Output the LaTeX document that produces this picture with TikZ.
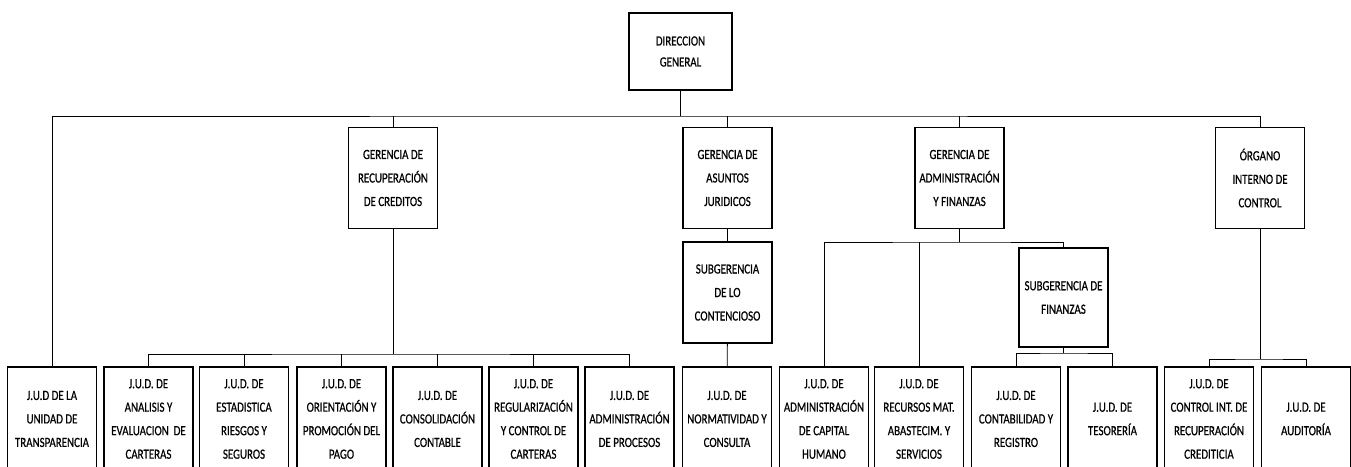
\documentclass[tikz,border=0pt]{standalone}
\usepackage{fontspec}
\setmainfont{Carlito}[FakeStretch=0.78, FakeBold=0.6]
\usepackage{tikz}

\begin{document}
\begin{tikzpicture}[x=1pt, y=-1pt, line width=0.9pt,
  unit/.style={draw, line width=1.2pt, inner sep=0pt, align=center,
    minimum width=89pt, font=\fontsize{14}{23.5}\selectfont},
  gerencia/.style={unit, minimum height=101pt},
  jud/.style={unit, minimum height=104pt}]

  \useasboundingbox (0, 0) rectangle (1351, 466);

  % levels of the buses
  \coordinate (bus) at (0, 116);
  \coordinate (busaf) at (0, 242);
  \coordinate (busf) at (0, 353);
  \coordinate (busrc) at (0, 354);
  \coordinate (buso) at (0, 359);

  \node[unit, minimum width=103pt, minimum height=77pt,
    font=\fontsize{14}{21}\selectfont] (dg) at (680.5, 51.5) {DIRECCION\\GENERAL};

  \node[gerencia] (grc) at (393, 178) {GERENCIA DE\\RECUPERACIÓN\\DE CREDITOS};
  \node[gerencia] (gaj) at (727.5, 178) {GERENCIA DE\\ASUNTOS\\JURIDICOS};
  \node[gerencia] (gaf) at (959.5, 178) {GERENCIA DE\\ADMINISTRACIÓN\\Y FINANZAS};
  \node[gerencia] (oic) at (1260, 178) {ÓRGANO\\INTERNO DE\\CONTROL};

  \node[gerencia] (sgc) at (727.5, 292.5) {SUBGERENCIA\\DE LO\\CONTENCIOSO};
  \node[unit, minimum height=99pt] (sgf) at (1063.5, 297.5) {SUBGERENCIA DE\\FINANZAS};

  \node[jud] (jtra) at (52, 419) {J.U.D DE LA\\UNIDAD DE\\TRANSPARENCIA};
  \node[jud] (jaec) at (148.5, 419) {J.U.D. DE\\ANALISIS Y\\EVALUACION \ DE\\CARTERAS};
  \node[jud] (jest) at (244, 419) {J.U.D. DE\\ESTADISTICA\\RIESGOS Y\\SEGUROS};
  \node[jud] (jori) at (341.5, 419) {J.U.D. DE\\ORIENTACIÓN Y\\PROMOCIÓN DEL\\PAGO};
  \node[jud] (jcon) at (437.5, 419) {J.U.D. DE\\CONSOLIDACIÓN\\CONTABLE};
  \node[jud] (jreg) at (533.5, 419) {J.U.D. DE\\REGULARIZACIÓN\\Y CONTROL DE\\CARTERAS};
  \node[jud] (jproc) at (629.5, 419) {J.U.D. DE\\ADMINISTRACIÓN\\DE PROCESOS};
  \node[jud] (jnor) at (727, 419) {J.U.D. DE\\NORMATIVIDAD Y\\CONSULTA};
  \node[jud] (jcap) at (824, 419) {J.U.D. DE\\ADMINISTRACIÓN\\DE CAPITAL\\HUMANO};
  \node[jud] (jrec) at (919, 419) {J.U.D. DE\\RECURSOS MAT.\\ABASTECIM. Y\\SERVICIOS};
  \node[jud] (jcont) at (1016, 419) {J.U.D. DE\\CONTABILIDAD Y\\REGISTRO};
  \node[jud] (jtes) at (1112.5, 419) {J.U.D. DE\\TESORERÍA};
  \node[jud] (jcint) at (1209, 419) {J.U.D. DE\\CONTROL INT. DE\\RECUPERACIÓN\\CREDITICIA};
  \node[jud] (jaud) at (1306, 419) {J.U.D. DE\\AUDITORÍA};

  % direccion general
  \draw (dg.south) -- (dg.south |- bus);
  \draw (jtra.north) |- (dg.south |- bus) -| (oic.north);
  \foreach \g in {grc, gaj, gaf}
    \draw (\g.north) -- (\g.north |- bus);

  % recuperacion de creditos
  \draw (grc.south) -- (grc.south |- busrc);
  \draw (jaec.north) |- (grc.south |- busrc) -| (jproc.north);
  \foreach \j in {jest, jori, jcon, jreg}
    \draw (\j.north) -- (\j.north |- busrc);

  % asuntos juridicos
  \draw (gaj) -- (sgc);
  \draw (sgc) -- (jnor);

  % administracion y finanzas
  \draw (gaf.south) -- (gaf.south |- busaf);
  \draw (jcap.north) |- (gaf.south |- busaf) -| (sgf.north);
  \draw (jrec.north) -- (jrec.north |- busaf);
  \draw (sgf.south) -- (sgf.south |- busf);
  \draw (jcont.north) |- (sgf.south |- busf) -| (jtes.north);

  % organo interno de control
  \draw (oic.south) -- (oic.south |- buso);
  \draw (jcint.north) |- (oic.south |- buso) -| (jaud.north);

\end{tikzpicture}
\end{document}
